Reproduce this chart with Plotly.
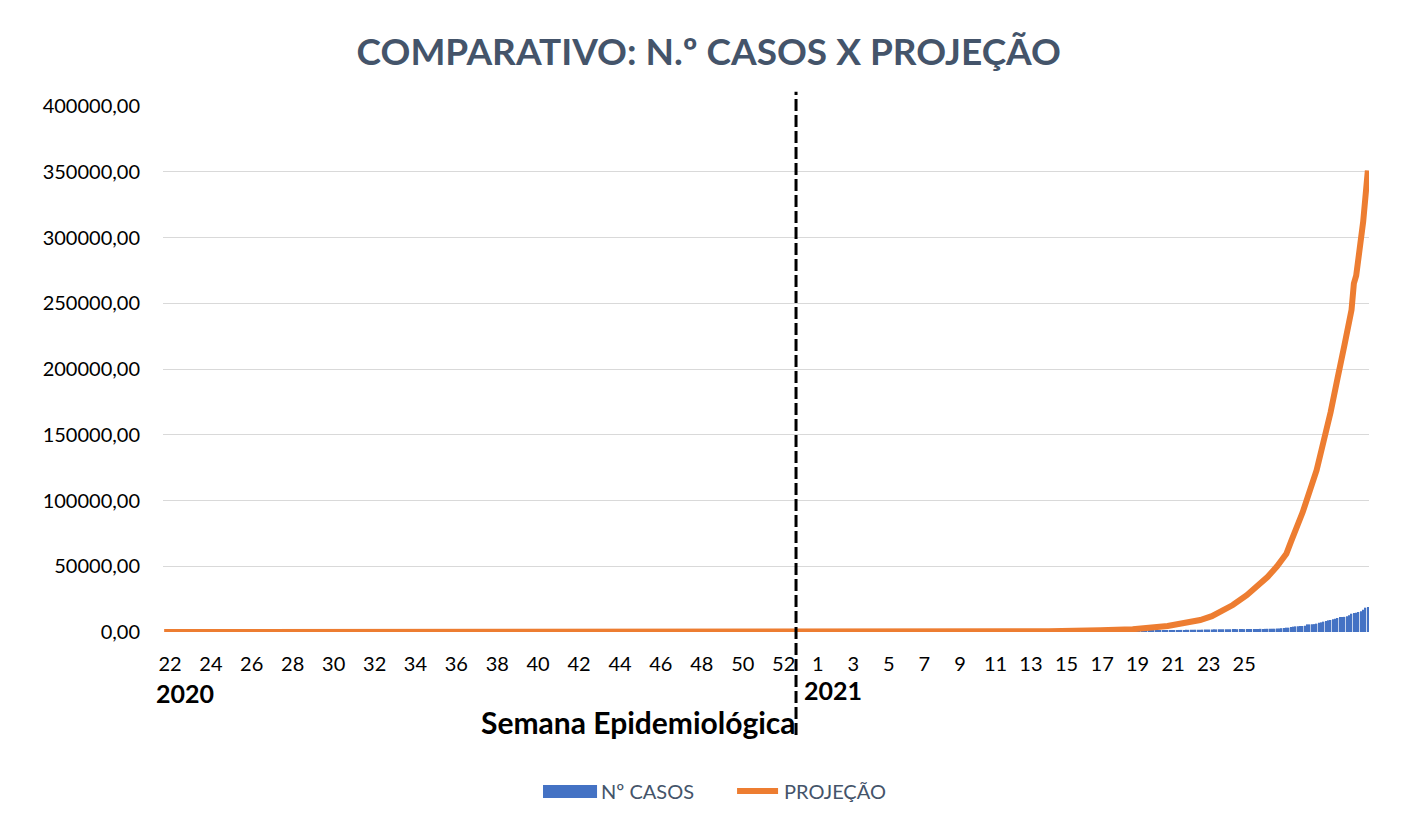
import plotly.graph_objects as go

# ---------------- data ----------------
TITLE = "COMPARATIVO: N.º CASOS X PROJEÇÃO"
X_TITLE = "Semana Epidemiológica"
YEARS = ["2020", "2021"]
SERIES = ["Nº CASOS", "PROJEÇÃO"]

# tick labels of the category axis (epidemiological weeks)
semanas_2020 = [22, 24, 26, 28, 30, 32, 34, 36, 38, 40, 42, 44, 46, 48, 50, 52]
semanas_2021 = [1, 3, 5, 7, 9, 11, 13, 15, 17, 19, 21, 23, 25]

# number of categories (days) on the axis
N_DIAS = 518

# Nº CASOS (bars), from category 400 to the last category
casos_inicio = 400
casos = [
    800, 820, 850, 870, 900, 920, 950, 980, 1000, 1020, 1050, 1080, 1100, 1100, 1120, 1150,
    1150, 1180, 1200, 1200, 1220, 1250, 1250,
    1300, 1300, 1350, 1350, 1400, 1400, 1400, 1450, 1450, 1500, 1500, 1500, 1550, 1550, 1600,
    1600, 1650, 1650, 1700, 1700, 1750, 1750,
    1800, 1800, 1850, 1900, 1900, 1950, 2000, 2000, 2050, 2000, 2100, 2100, 2150, 2100, 2200,
    2200, 2150, 2200, 2250, 2200, 2300, 2250, 2300, 2300, 2350, 2300, 2400, 2350, 2400, 2450,
    2400, 2500, 2500, 2600, 2700, 2900, 3100,
    3300, 3300, 3800, 4050, 4300, 4300, 4560, 4560, 4800, 5800, 5800, 5900, 6000, 6340, 7100,
    7350, 7860, 8370, 8870, 9130, 9630, 10140, 10650, 11400, 11400, 11500, 11900, 12700,
    13900, 14450, 14700, 15200, 15700, 17000, 18500, 19000,
]

# PROJEÇÃO (line): category index and projected value
proj_dia = [0, 300, 360, 380, 402, 416, 431, 439, 445, 450, 455, 459, 465, 469, 474, 478,
            482, 484, 489, 495, 498, 501, 504, 506, 507, 510, 511, 512, 515, 517]
proj_val = [0, 0, 200, 500, 1300, 2050, 4560, 7000, 9100, 12000, 16200, 20500, 28000,
            34400, 42000, 50000, 59500, 68700, 91000, 123000, 144000, 167000, 193000,
            214500, 218500, 245000, 265000, 271000, 312000, 351000]

y_ticks = [0, 50000, 100000, 150000, 200000, 250000, 300000, 350000, 400000]
y_labels = ["0,00", "50000,00", "100000,00", "150000,00", "200000,00",
            "250000,00", "300000,00", "350000,00", "400000,00"]

# ---------------- layout helpers (positions, not data) ----------------
pos_2020 = [2.5, 20.1, 37.6, 55.2, 72.8, 90.4, 107.9, 125.5, 143.1, 160.6, 178.2,
            195.8, 213.3, 230.9, 248.5, 266.1]
pos_2021 = [280.7, 296.0, 311.2, 326.5, 341.8, 357.1, 372.3, 387.6, 402.9, 418.1,
            433.4, 448.7, 463.9]
DIVISOR = 271.4  # dashed separator between years

FONT = "Lato"
BLUE = "#4472C4"
ORANGE = "#ED7D31"
SLATE = "#44546A"

fig = go.Figure()
fig.add_trace(go.Bar(
    x=list(range(casos_inicio, casos_inicio + len(casos))),
    y=casos,
    name=SERIES[0],
    marker=dict(color=BLUE, line=dict(width=0)),
    showlegend=False,
))
fig.add_trace(go.Scatter(
    x=proj_dia, y=proj_val, name=SERIES[1], mode="lines",
    line=dict(color=ORANGE, width=6),
    showlegend=False,
))

# page has an 8px body margin: figure is 1410x817 drawn at (8, 8)
fig.update_layout(
    width=1410, height=817,
    paper_bgcolor="white", plot_bgcolor="white",
    margin=dict(l=155, r=49, t=98, b=193, autoexpand=False),
    bargap=0.35,
    font=dict(family=FONT, color="#000000", size=20),
    title=dict(text="<b>" + TITLE + "</b>", x=0.497, xref="container", xanchor="center",
               y=1 - 44 / 817, yref="container", yanchor="middle",
               font=dict(family=FONT, size=37, color=SLATE)),
    showlegend=False,
)

fig.update_xaxes(
    range=[-0.5, N_DIAS - 0.5],
    tickmode="array",
    tickvals=pos_2020 + pos_2021,
    ticktext=[str(s) for s in semanas_2020 + semanas_2021],
    showgrid=False, zeroline=False, showline=False,
    ticks="", ticklabelstandoff=18,
    tickfont=dict(family=FONT, size=20, color="#000000"),
)
fig.update_yaxes(
    range=[0, 400000],
    tickmode="array", tickvals=y_ticks, ticktext=y_labels,
    showgrid=True, gridcolor="#D9D9D9", gridwidth=1.2,
    zeroline=False, showline=False, ticks="", ticklabelstandoff=22,
    tickfont=dict(family=FONT, size=20, color="#000000"),
)

# dashed separator between 2020 and 2021
fig.add_shape(type="line", xref="x", yref="paper", x0=DIVISOR, x1=DIVISOR,
              y0=-0.196, y1=1.027, line=dict(color="#000000", width=3, dash="12px,4px"))

# year labels and axis title
fig.add_annotation(text="<b>" + YEARS[0] + "</b>", xref="x", yref="paper", x=9, y=-0.116,
                   xanchor="center", yanchor="middle", showarrow=False,
                   font=dict(family=FONT, size=25, color="#000000"))
fig.add_annotation(text="<b>" + YEARS[1] + "</b>", xref="x", yref="paper", x=287.3, y=-0.110,
                   xanchor="center", yanchor="middle", showarrow=False,
                   font=dict(family=FONT, size=25, color="#000000"))
fig.add_annotation(text="<b>" + X_TITLE + "</b>", xref="x", yref="paper", x=DIVISOR + 1, y=-0.171,
                   xanchor="right", yanchor="middle", showarrow=False,
                   font=dict(family=FONT, size=30, color="#000000"))

# legend (drawn below the plot)
fig.add_shape(type="rect", xref="paper", yref="paper", x0=0.3151, x1=0.3599,
              y0=-0.3156, y1=-0.2909, fillcolor=BLUE, line=dict(width=0))
fig.add_annotation(text=SERIES[0], xref="paper", yref="paper", x=0.3616, y=-0.3023,
                   xanchor="left", yanchor="middle", showarrow=False,
                   font=dict(family=FONT, size=20, color=SLATE))
fig.add_shape(type="line", xref="paper", yref="paper", x0=0.4760, x1=0.5100,
              y0=-0.3023, y1=-0.3023, line=dict(color=ORANGE, width=6))
fig.add_annotation(text=SERIES[1], xref="paper", yref="paper", x=0.5133, y=-0.3023,
                   xanchor="left", yanchor="middle", showarrow=False,
                   font=dict(family=FONT, size=20, color=SLATE))

# chart area border (right edge)
fig.add_shape(type="line", xref="paper", yref="paper",
              x0=(1413 - 163) / 1206, x1=(1413 - 163) / 1206, y0=(632 - 830) / 526, y1=(632 - 0) / 526,
              line=dict(color="#D9D9D9", width=1.5))

fig.write_html("out.html")
